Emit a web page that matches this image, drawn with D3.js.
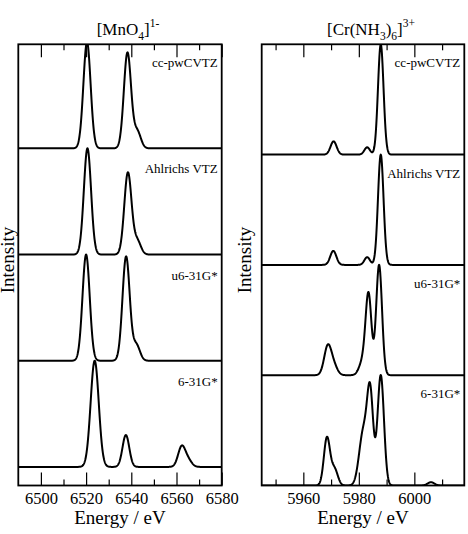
<!DOCTYPE html>
<html>
<head>
<meta charset="utf-8">
<script src="https://cdn.jsdelivr.net/npm/d3@7/dist/d3.min.js"></script>
<style>
body { margin: 0; background: #fff; }
</style>
</head>
<body>
<svg id="chart" width="468" height="534"></svg>
<script>
// basis sets, top spectrum first
var basisLabels = ["cc-pwCVTZ", "Ahlrichs VTZ", "u6-31G*", "6-31G*"];

// [MnO4]1- : transition energies (eV), relative intensities, gaussian sigma (eV)
var mnCenters = [
	[6520.4, 6538.3, 6542.6],
	[6520.6, 6538.5, 6542.6],
	[6520.0, 6537.7, 6542.2],
	[6523.8, 6537.6, 6562.3, 6565.2]
];
var mnHeights = [
	[1.0, 0.90, 0.16],
	[1.0, 0.77, 0.13],
	[1.0, 0.98, 0.15],
	[1.0, 0.30, 0.19, 0.06]
];
var mnWidths = [
	[1.6, 1.6, 1.6],
	[1.6, 1.6, 1.6],
	[1.6, 1.6, 1.6],
	[1.8, 1.5, 1.6, 1.6]
];

// [Cr(NH3)6]3+
var crCenters = [
	[5970.9, 5983.0, 5987.9],
	[5970.8, 5983.0, 5987.9],
	[5968.8, 5971.0, 5981.4, 5983.5, 5987.3],
	[5968.5, 5971.2, 5981.6, 5984.1, 5987.9, 6006.0]
];
var crHeights = [
	[0.12, 0.066, 1.0],
	[0.127, 0.07, 1.0],
	[0.26, 0.08, 0.12, 0.72, 1.0],
	[0.43, 0.15, 0.48, 0.80, 1.0, 0.03]
];
var crWidths = [
	[1.1, 1.0, 1.0],
	[1.1, 1.0, 1.0],
	[1.3, 1.3, 1.3, 1.05, 1.05],
	[1.1, 1.2, 1.5, 1.1, 1.15, 1.2]
];

var mnTicks = [6500, 6520, 6540, 6560, 6580];
var mnMinor = [6510, 6530, 6550, 6570];
var crTicks = [5960, 5980, 6000];
var crMinor = [5950, 5970, 5990, 6010];

var svg = d3.select("svg#chart");
var serif = "'Liberation Serif', 'Times New Roman', serif";

// broadened stick spectrum on a grid across the energy window
function broaden(centers, heights, widths, dom) {
	var pts = [];
	for (var e = dom[0]; e <= dom[1] + 1e-9; e += 0.1) {
		var s = 0;
		for (var k = 0; k < centers.length; k++) {
			var d = (e - centers[k]) / widths[k];
			s += heights[k] * Math.exp(-0.5 * d * d);
		}
		pts.push({e: e, v: s});
	}
	return pts;
}

function drawPanel(p) {
	var x = d3.scaleLinear().domain(p.xDomain).range([p.left, p.right]);
	var y = d3.scaleLinear().domain(p.yDomain).range([p.bottom, p.top]);
	var g = svg.append("g");

	g.append("clipPath").attr("id", p.id + "_clip")
	.append("rect")
	.attr("x", p.left).attr("y", p.top)
	.attr("width", p.right - p.left).attr("height", p.bottom - p.top);

	var n = p.labels.length;
	p.centers.forEach(function(c, i) {
		var offset = n - 1 - i;
		var line = d3.line()
		.x(function(d) { return x(d.e); })
		.y(function(d) { return y(d.v + offset); });
		g.append("path")
		.datum(broaden(c, p.heights[i], p.widths[i], p.xDomain))
		.attr("clip-path", "url(#" + p.id + "_clip)")
		.attr("fill", "none")
		.attr("stroke", "#000")
		.attr("stroke-width", 2)
		.attr("stroke-linejoin", "round")
		.attr("d", line);

		g.append("text")
		.attr("x", p.right - 4)
		.attr("y", y(offset + 1) + p.labelDy)
		.attr("text-anchor", "end")
		.attr("font-family", serif)
		.attr("font-size", 13)
		.text(p.labels[i]);
	});

	// ticks pointing inward, top and bottom
	var bottomAxis = g.append("g")
	.attr("transform", "translate(0," + p.bottom + ")")
	.call(d3.axisBottom(x).tickValues(p.ticks).tickSize(-13).tickPadding(7).tickFormat(d3.format("d")));
	bottomAxis.attr("font-family", serif).attr("font-size", 16.5);
	bottomAxis.selectAll("text").attr("fill", "#000");
	g.append("g")
	.attr("transform", "translate(0," + p.bottom + ")")
	.call(d3.axisBottom(x).tickValues(p.minor).tickSize(-6).tickFormat(""));
	g.append("g")
	.attr("transform", "translate(0," + p.top + ")")
	.call(d3.axisTop(x).tickValues(p.ticks).tickSize(-13).tickFormat(""));
	g.append("g")
	.attr("transform", "translate(0," + p.top + ")")
	.call(d3.axisTop(x).tickValues(p.minor).tickSize(-6).tickFormat(""));
	g.selectAll(".domain").remove();
	g.selectAll(".tick line").attr("stroke", "#000").attr("stroke-width", 1.2);

	g.append("rect")
	.attr("x", p.left).attr("y", p.top)
	.attr("width", p.right - p.left).attr("height", p.bottom - p.top)
	.attr("fill", "none").attr("stroke", "#000").attr("stroke-width", 1.8);

	var cx = (p.left + p.right) / 2;
	g.append("text")
	.attr("x", cx).attr("y", 524)
	.attr("text-anchor", "middle")
	.attr("font-family", serif)
	.attr("font-size", 19)
	.text("Energy / eV");

	g.append("text")
	.attr("transform", "translate(" + p.yLabelX + ",260) rotate(-90)")
	.attr("text-anchor", "middle")
	.attr("font-family", serif)
	.attr("font-size", 19)
	.text("Intensity");

	// title with sub/superscripts
	var t = g.append("text")
	.attr("x", cx + 8).attr("y", 35)
	.attr("text-anchor", "middle")
	.attr("font-family", serif)
	.attr("font-size", 17);
	var shift = 0;
	p.title.forEach(function(part) {
		var dy = part[1] - shift;
		shift = part[1];
		t.append("tspan")
		.attr("dy", dy)
		.attr("font-size", part[1] === 0 ? 17 : 11.5)
		.text(part[0]);
	});
}

drawPanel({
	id: "mn",
	left: 18.3, right: 221.7, top: 44.3, bottom: 485.5,
	xDomain: [6490, 6580], yDomain: [-0.175, 3.98],
	ticks: mnTicks, minor: mnMinor,
	labels: basisLabels, centers: mnCenters, heights: mnHeights, widths: mnWidths,
	labelDy: 25, yLabelX: 14,
	title: [["[MnO", 0], ["4", 5], ["]", 0], ["1-", -8]]
});

drawPanel({
	id: "cr",
	left: 261.7, right: 464.3, top: 44.3, bottom: 485.5,
	xDomain: [5945, 6018], yDomain: [0, 4],
	ticks: crTicks, minor: crMinor,
	labels: basisLabels, centers: crCenters, heights: crHeights, widths: crWidths,
	labelDy: 23, yLabelX: 250.5,
	title: [["[Cr(NH", 0], ["3", 5], [")", 0], ["6", 5], ["]", 0], ["3+", -8]]
});
</script>
</body>
</html>
